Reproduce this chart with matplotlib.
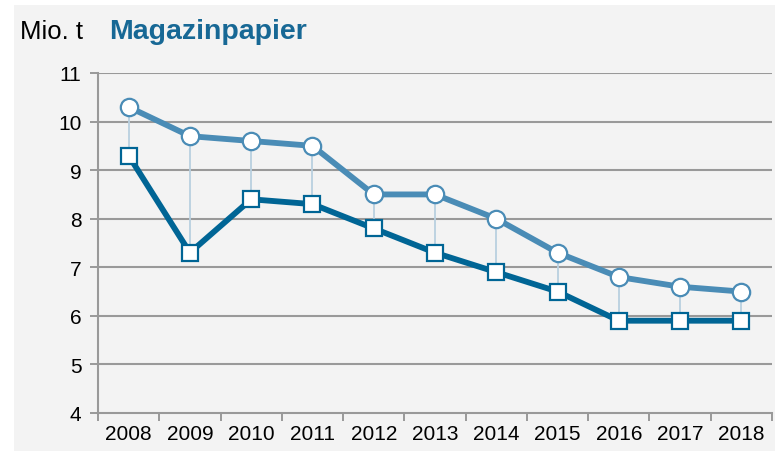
import numpy as np
import matplotlib.pyplot as plt
from matplotlib.patches import Rectangle

plt.rcParams['font.family'] = ['Liberation Sans', 'DejaVu Sans']

# data
years = ['2008', '2009', '2010', '2011', '2012', '2013', '2014', '2015', '2016', '2017', '2018']
upper = [10.3, 9.7, 9.6, 9.5, 8.5, 8.5, 8.0, 7.3, 6.8, 6.6, 6.5]
lower = [9.3, 7.3, 8.4, 8.3, 7.8, 7.3, 6.9, 6.5, 5.9, 5.9, 5.9]
y_ticks = [4, 5, 6, 7, 8, 9, 10, 11]

W, H = 775, 452
fig = plt.figure(figsize=(W / 100, H / 100), dpi=100)
fig.patch.set_facecolor('white')
# gray panel behind the chart
fig.patches.append(Rectangle((14 / W, 0), 1, 1 - 6 / H, transform=fig.transFigure,
                             facecolor='#f3f3f3', edgecolor='none', zorder=-5))

ax = fig.add_axes([98 / W, 1 - 414 / H, (772 - 98) / W, (414 - 74) / H])
ax.set_facecolor('none')
ax.set_zorder(2)

x = np.arange(len(years))
grid_c = '#999999'

# drop lines between the two series
ax.vlines(x, lower, upper, color='#b9d0e0', lw=1.3, zorder=2)

ax.plot(x, upper, color='#4a8cb6', lw=4.2, marker='o', ms=12.5, mfc='white',
        mec='#4a8cb6', mew=1.6, zorder=3, clip_on=False)
ax.plot(x, lower, color='#006595', lw=4.2, marker='s', ms=12, mfc='white',
        mec='#006595', mew=1.6, zorder=4, clip_on=False)

ax.set_xlim(-0.5, len(years) - 0.5)
ax.set_ylim(4, 11)
ax.set_yticks(y_ticks)
ax.set_yticklabels([str(v) for v in y_ticks], fontsize=15)
ax.set_xticks(x)
ax.set_xticklabels(years, fontsize=15)
ax.set_xticks(np.arange(-0.5, len(years)), minor=True)
ax.tick_params(axis='x', which='major', length=0, pad=8)
ax.tick_params(axis='x', which='minor', length=6, width=1.4, color=grid_c)
ax.tick_params(axis='y', length=6, width=1.4, color=grid_c, pad=6)

for v in y_ticks[1:]:
    ax.axhline(v, color=grid_c, lw=1.5, zorder=1)

for s in ['top', 'right']:
    ax.spines[s].set_visible(False)
for s in ['left', 'bottom']:
    ax.spines[s].set_color(grid_c)
    ax.spines[s].set_linewidth(1.5)

fig.text(20 / W, 1 - 32 / H, 'Mio. t', fontsize=18.5, color='black', va='center')
fig.text(109 / W, 1 - 32 / H, 'Magazinpapier', fontsize=20.5, fontweight='bold',
         color='#176895', va='center')

fig.savefig('out.png', dpi=100, facecolor=fig.get_facecolor())
